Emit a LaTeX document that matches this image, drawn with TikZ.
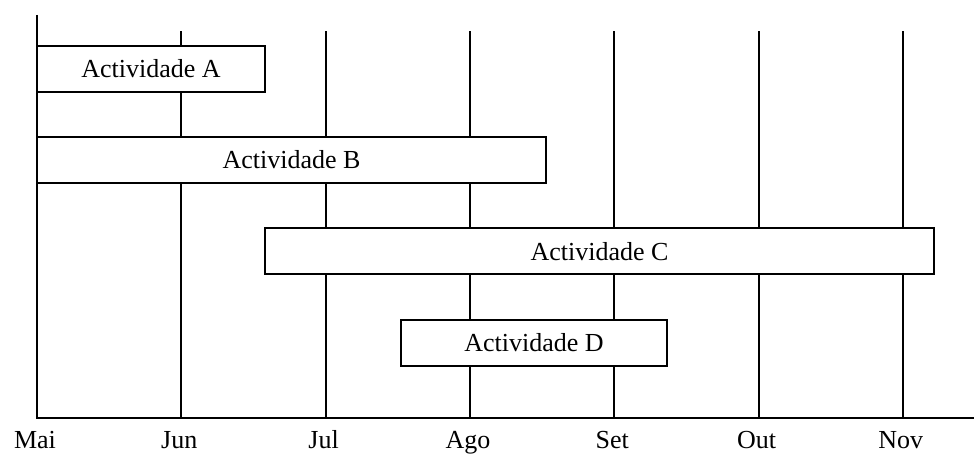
\documentclass[tikz,border=0pt]{standalone}
\usepackage{fontspec}
\setmainfont{Liberation Serif}
\usepackage{tikz}
\usetikzlibrary{positioning}

\begin{document}
\begin{tikzpicture}[x=0.5pt,y=-0.5pt,line width=1pt,
    task node/.style={rectangle,draw,fill=white,minimum height=23pt,inner sep=0pt,font=\fontsize{13}{15}\selectfont},
    month node/.style={anchor=base,inner sep=0pt,font=\fontsize{13}{15}\selectfont}]
            \useasboundingbox (0,0) rectangle (974,454);
            % time axis and month lines
            \draw (37,15) -- (37,418) -- (974,418);
            \foreach \m [count=\i from 0] in {Mai,Jun,Jul,Ago,Set,Out,Nov} {
                \coordinate (m\i) at (37+144.3*\i,418);
                \ifnum\i>0 \draw (m\i) -- ++(0,-387); \fi
                \node[month node] (l\i) at (35+144.3*\i,448) {\m};
            }
            % activities
            \node[task node,minimum width=114pt] (A) at (151,69) {Actividade A};
            \node[task node,minimum width=254.5pt] (B) at (291.5,160) {Actividade B};
            \node[task node,minimum width=334.5pt] (C) at (599.5,251.5) {Actividade C};
            \node[task node,minimum width=133pt] (D) at (534,343) {Actividade D};
        \end{tikzpicture}
\end{document}
